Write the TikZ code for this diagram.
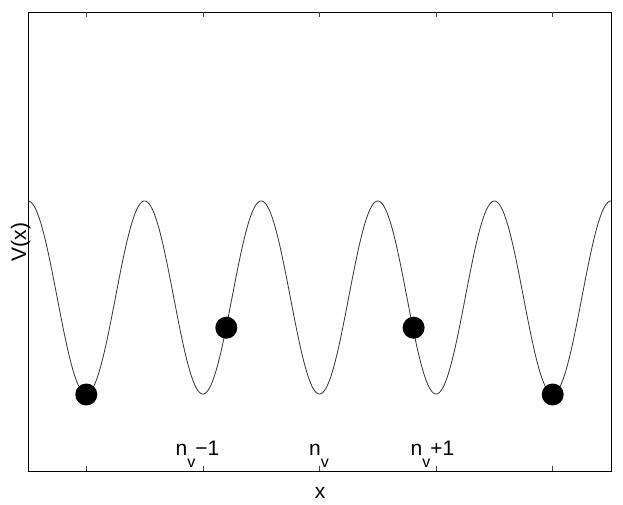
\documentclass[tikz,border=0pt]{standalone}
\usepackage{fontspec}
\setmainfont{Liberation Sans}
\begin{document}
\begin{tikzpicture}[x=1pt,y=-1pt,
  axisframe/.style={draw=black,line width=0.9pt,rectangle,inner sep=0pt,outer sep=0pt},
  tickmark/.style={draw=black!75,line width=0.8pt},
  potential/.style={draw=black!80,line width=0.8pt},
  particle/.style={circle,fill=black,draw=none,inner sep=0pt,minimum size=22pt},
  ticklabel/.style={font=\fontsize{21}{25}\selectfont,anchor=base,inner sep=0pt},
  axislabel/.style={font=\fontsize{21}{25}\selectfont,inner sep=0pt}]
\newcommand{\subvee}{\raisebox{-12pt}{\fontsize{16}{18}\selectfont v}}
\useasboundingbox (0,0) rectangle (623,505);
% frame
\node[axisframe, minimum width=583pt, minimum height=459pt, anchor=north west] (frame) at (28,12) {};
% ticks
\foreach \k in {1,3,5,7,9} {
  \draw[tickmark] ({28+58.3*\k},471) -- ++(0,-5);
  \draw[tickmark] ({28+58.3*\k},12) -- ++(0,5);
}
% potential
\draw[potential] plot[domain=28:611, samples=500] (\x, {297.5 - 96.5*cos(3.08748*(\x-28))});
% particles
\node[particle] (b1) at (86.3,394.5) {};
\node[particle] (b2) at (226.3,327.7) {};
\node[particle] (b3) at (413.6,327.7) {};
\node[particle] (b4) at (552.7,394.5) {};
% tick labels
\node[ticklabel] (l1) at (197.5,455) {n\subvee{}−1};
\node[ticklabel] (l2) at (319,455) {n\subvee{}};
\node[ticklabel] (l3) at (432.5,455) {n\subvee{}+1};
% axis labels
\node[axislabel, anchor=base] (xl) at (320,498) {x};
\node[axislabel, rotate=90, anchor=base] (yl) at (26,242) {V(x)};
\end{tikzpicture}
\end{document}
